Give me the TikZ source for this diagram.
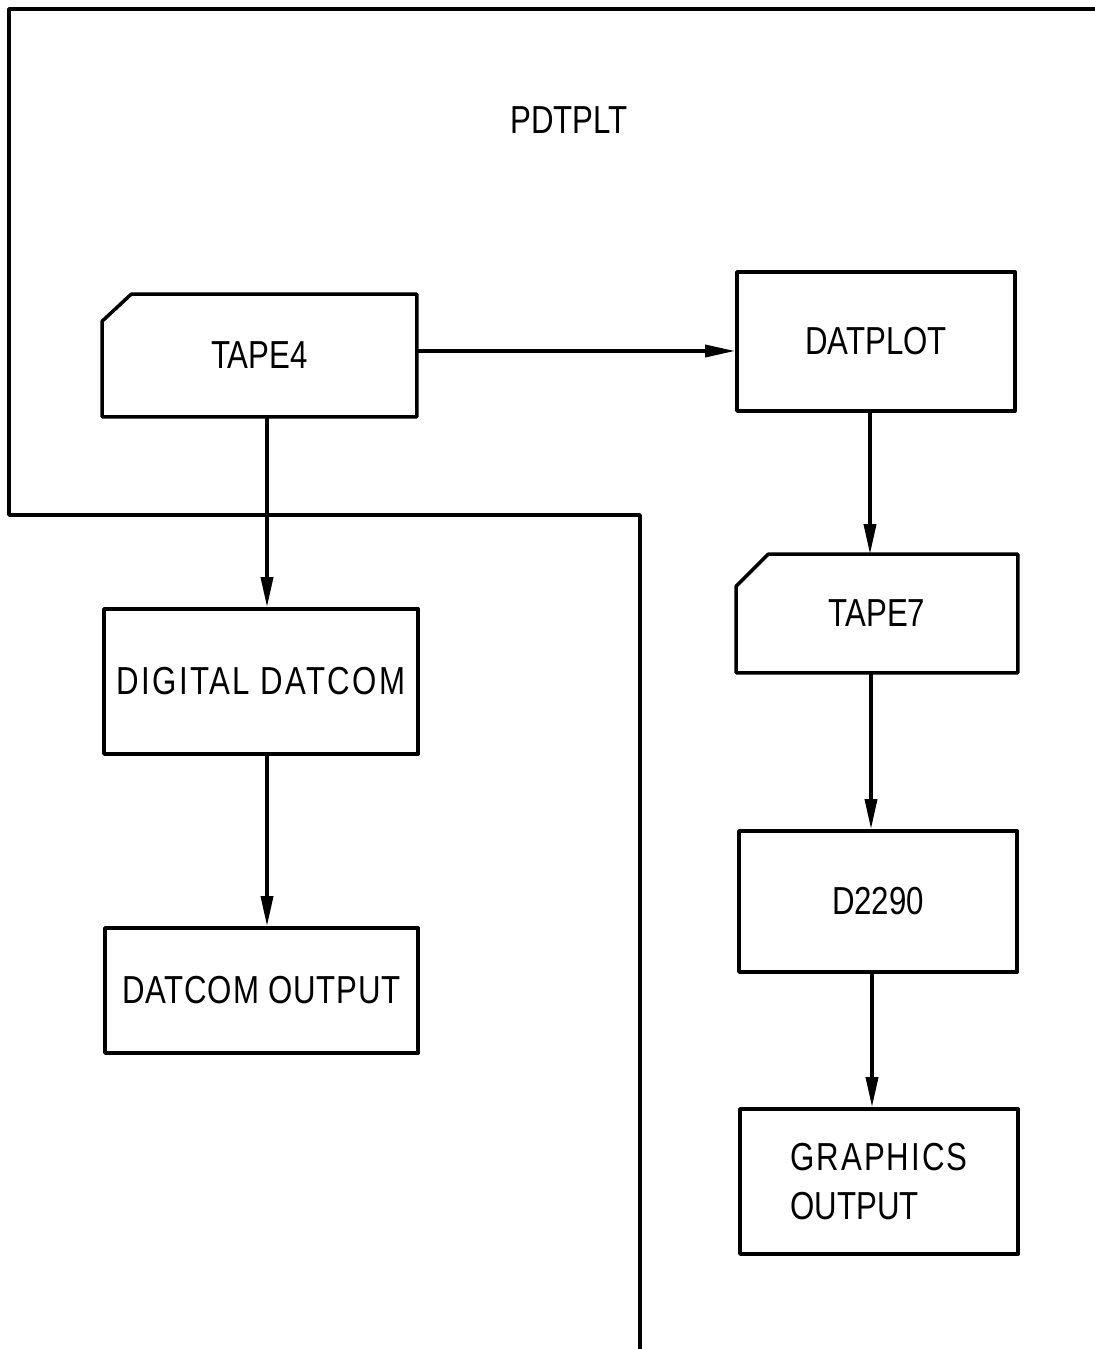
\documentclass[tikz,border=0pt]{standalone}
\usepackage{fontspec}
\setmainfont{Liberation Sans}[FakeStretch=0.8]
\usetikzlibrary{arrows.meta}
\begin{document}
\begin{tikzpicture}[x=0.01cm,y=-0.01cm,
  line/.style={line width=1pt,line join=round},
  box/.style={line,draw,minimum width=#1,inner sep=0pt,font=\fontsize{11.1}{14}\selectfont},
  card/.style={box=#1,draw=none},
  arr/.style={line,-{Triangle[length=3mm,width=1.2mm]}}]
\useasboundingbox (0,0) rectangle (1095,1349);
\draw[line] (1100,9) -- (9,9) -- (9,515) -- (640,515) -- (640,1352);
\node[font=\fontsize{11.1}{14}\selectfont] (pdtplt) at (569,120) {PDTPLT};
\node[card=3.11cm,minimum height=1.19cm] (t4) at (259.5,355.5) {TAPE4};
\node[box=2.78cm,minimum height=1.39cm] (datplot) at (876,341.5) {DATPLOT};
\node[card=2.78cm,minimum height=1.15cm] (t7) at (877,613.5) {TAPE7};
\node[box=3.14cm,minimum height=1.45cm] (dd) at (261,681.5) {\addfontfeature{LetterSpace=6}DIGITAL DATCOM};
\node[box=3.13cm,minimum height=1.25cm] (dout) at (261.5,990.5) {\addfontfeature{LetterSpace=2}DATCOM OUTPUT};
\node[box=2.78cm,minimum height=1.41cm] (d2290) at (878,901.5) {D2290};
\node[box=2.78cm,minimum height=1.45cm,align=left] (gout) at (879,1181.5) {\addfontfeature{LetterSpace=5}GRAPHICS\\OUTPUT};
\draw[line] ([yshift=-0.27cm]t4.north west) -- ([xshift=0.29cm]t4.north west) -- (t4.north east) -- (t4.south east) -- (t4.south west) -- cycle;
\draw[line] ([yshift=-0.32cm]t7.north west) -- ([xshift=0.32cm]t7.north west) -- (t7.north east) -- (t7.south east) -- (t7.south west) -- cycle;
\draw[arr] ([yshift=0.045cm]t4.east) -- ([yshift=0.045cm]t4.east -| datplot.west);
\draw[arr] ([xshift=0.075cm]t4.south) -- ([xshift=0.075cm]t4.south |- dd.north);
\draw[arr] ([xshift=0.06cm]dd.south) -- ([xshift=0.06cm]dd.south |- dout.north);
\draw[arr] ([xshift=-0.06cm]datplot.south) -- ([xshift=-0.06cm]datplot.south |- t7.north);
\draw[arr] ([xshift=-0.06cm]t7.south) -- ([xshift=-0.06cm]t7.south |- d2290.north);
\draw[arr] ([xshift=-0.06cm]d2290.south) -- ([xshift=-0.06cm]d2290.south |- gout.north);
\end{tikzpicture}
\end{document}
